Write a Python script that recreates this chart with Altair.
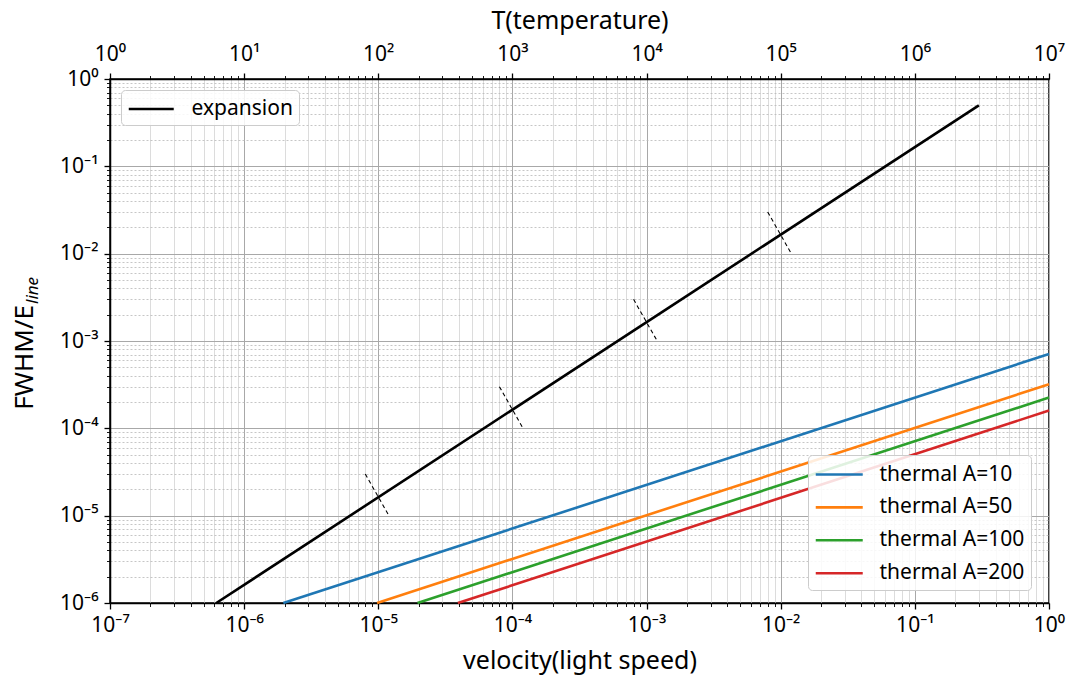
import altair as alt
import pandas as pd

FONT = "Noto Sans"

# ---- data ----
# expansion line (velocity in light speed units -> FWHM/E_line)
exp_v = [6.2e-7, 0.3]
exp_y = [1e-6, 0.5]

# short dashed markers across the expansion line
mark_v1 = [8e-6, 8e-5, 8e-4, 8e-3]
mark_y1 = [3e-5, 3e-4, 3e-3, 3e-2]
mark_v2 = [1.2e-5, 1.2e-4, 1.2e-3, 1.2e-2]
mark_y2 = [1e-5, 1e-4, 1e-3, 1e-2]

# thermal lines (temperature on the top axis)
thermal_labels = ["thermal A=10", "thermal A=50", "thermal A=100", "thermal A=200"]
thermal_colors = ["#1f77b4", "#ff7f0e", "#2ca02c", "#d62728"]
thermal_T_start = [19.6, 98.0, 196.0, 392.0]
thermal_T_end = [1e7, 1e7, 1e7, 1e7]
thermal_y_start = [1e-6, 1e-6, 1e-6, 1e-6]
thermal_y_end = [7.1e-4, 3.2e-4, 2.25e-4, 1.6e-4]

# tick values
v_ticks = [k * 10.0 ** d for d in range(-7, 0) for k in range(1, 10)] + [1.0]
T_ticks = [k * 10.0 ** d for d in range(0, 7) for k in range(1, 10)] + [1e7]
y_ticks = [k * 10.0 ** d for d in range(-6, 0) for k in range(1, 10)] + [1.0]

# ---- tables ----
exp_df = pd.DataFrame({"v": exp_v, "y": exp_y, "series": ["expansion"] * 2})
mark_df = pd.DataFrame({"v1": mark_v1, "y1": mark_y1, "v2": mark_v2, "y2": mark_y2})
rows = []
for lab, t0, t1, y0, y1 in zip(thermal_labels, thermal_T_start, thermal_T_end,
                               thermal_y_start, thermal_y_end):
    rows.append({"T": t0, "y": y0, "series": lab})
    rows.append({"T": t1, "y": y1, "series": lab})
th_df = pd.DataFrame(rows)

E = "round(log(datum.value)/LN10)"
MAJ = f"abs(log(datum.value)/LN10 - {E}) < 0.001"
SUP = "['⁰','¹','²','³','⁴','⁵','⁶','⁷','⁸','⁹']"
LABEL_EXPR = f"({MAJ}) ? '10' + ({E} < 0 ? '⁻' : '') + {SUP}[abs({E})] : ''"

# legend line symbol: starts at the symbol's left edge and is twice its nominal size long
LEG_PATH = "M-1,0H3"


def make_axis(orient, values, grid, title=None, title_y=None, label_pad=6, minor_dash=None,
              minor_grid_color="#d3d3d3"):
    kw = dict(
        orient=orient,
        values=values,
        labelExpr=LABEL_EXPR,
        labelOverlap=False,
        labelFlush=False,
        labelFontSize=21,
        labelPadding=label_pad,
        tickSize={"condition": {"test": MAJ, "value": 6}, "value": 3.5},
        tickWidth={"condition": {"test": MAJ, "value": 1.3}, "value": 0.9},
        grid=grid,
        title=title if title is not None else "",
    )
    if grid:
        kw["gridColor"] = {"condition": {"test": MAJ, "value": "#a8a8a8"}, "value": minor_grid_color}
        kw["gridWidth"] = {"condition": {"test": MAJ, "value": 1.0}, "value": 0.8}
        if minor_dash is not None:
            kw["gridDash"] = {"condition": {"test": MAJ, "value": []}, "value": minor_dash}
    if title:
        kw["titleFontSize"] = 25
        kw["titleFontWeight"] = "normal"
        kw["titleBaseline"] = "alphabetic"
        kw["titleY"] = title_y
    return alt.Axis(**kw)


x_bottom_axis = make_axis("bottom", v_ticks, True, "velocity(light speed)", 65, label_pad=5)
x_top_axis = make_axis("top", T_ticks, False, "T(temperature)", -51, label_pad=9)
y_axis = make_axis("left", y_ticks, True, None, None, label_pad=6, minor_dash=[2, 2],
                   minor_grid_color="#b8b8b8")

x_scale_v = alt.Scale(type="log", domain=[1e-7, 1], nice=False)
x_scale_T = alt.Scale(type="log", domain=[1, 1e7], nice=False)
y_scale = alt.Scale(type="log", domain=[1e-6, 1], nice=False)

legend_common = dict(
    orient="none", title=None,
    symbolType=LEG_PATH, symbolStrokeWidth=2.6,
    labelFontSize=21, labelFont=FONT, labelOffset=38.5, padding=6,
    fillColor="rgba(255,255,255,0.85)", strokeColor="#cccccc", cornerRadius=4,
)

exp_line = alt.Chart(exp_df).mark_line(strokeWidth=2.6).encode(
    x=alt.X("v:Q", scale=x_scale_v, axis=x_bottom_axis),
    y=alt.Y("y:Q", scale=y_scale, axis=y_axis),
    color=alt.Color(
        "series:N",
        scale=alt.Scale(domain=["expansion"], range=["black"]),
        legend=alt.Legend(legendX=11, legendY=11, symbolSize=506, **legend_common),
    ),
)

marks = alt.Chart(mark_df).mark_rule(strokeWidth=1.1, strokeDash=[4, 3], color="black").encode(
    x=alt.X("v1:Q", scale=x_scale_v, axis=x_bottom_axis),
    x2="v2:Q",
    y=alt.Y("y1:Q", scale=y_scale, axis=y_axis),
    y2="y2:Q",
)

thermal = alt.Chart(th_df).mark_line(strokeWidth=2.6).encode(
    x=alt.X("T:Q", scale=x_scale_T, axis=x_top_axis),
    y=alt.Y("y:Q", scale=y_scale, axis=y_axis),
    color=alt.Color(
        "series:N",
        scale=alt.Scale(domain=thermal_labels, range=thermal_colors),
        legend=alt.Legend(legendX=698, legendY=376, symbolSize=552, rowPadding=8.9,
                          **legend_common),
    ),
)

ytitle_main = alt.Chart(pd.DataFrame({"t": ["FWHM/E"]})).mark_text(
    angle=270, align="right", baseline="alphabetic", fontSize=26, font=FONT, color="black"
).encode(text="t:N", x=alt.value(-77), y=alt.value(226))

ytitle_sub = alt.Chart(pd.DataFrame({"t": ["line"]})).mark_text(
    angle=270, align="left", baseline="alphabetic", fontSize=17, font=FONT,
    fontStyle="italic", color="black"
).encode(text="t:N", x=alt.value(-72), y=alt.value(225))

inner = alt.layer(exp_line, marks)
chart = alt.layer(inner, thermal, ytitle_main, ytitle_sub).resolve_scale(
    x="independent", color="independent"
).properties(
    width=939, height=524,
    autosize=alt.AutoSizeParams(type="none"),
    padding={"left": 110, "top": 79, "right": 20, "bottom": 73},
).configure_axis(
    domainColor="black", domainWidth=1.5, tickColor="black",
    labelFont=FONT, titleFont=FONT, labelColor="black", titleColor="black",
).configure_view(stroke="black", strokeWidth=1.5)

chart.save("out.html", embed_options={"renderer": "svg", "actions": False})
